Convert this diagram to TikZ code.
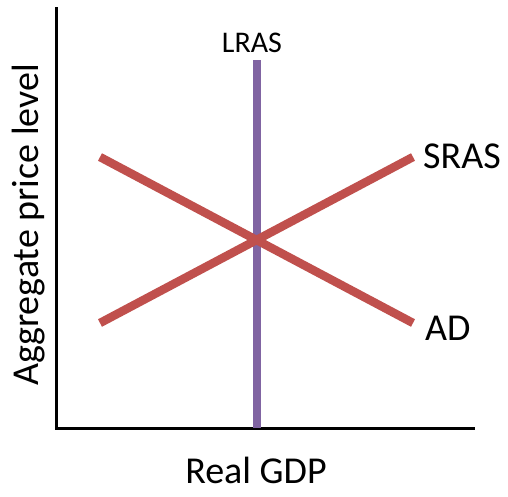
\documentclass[tikz,border=0pt]{standalone}
\usepackage{fontspec}
\setmainfont{Carlito}
\definecolor{curvered}{HTML}{C0504D}
\definecolor{lraspurple}{HTML}{8064A2}
\tikzset{
  axisline/.style={line width=3pt, black},
  curveline/.style={line width=8.5pt, curvered},
  lrasline/.style={line width=8pt, lraspurple},
  biglabel/.style={font=\fontsize{38}{40}\selectfont, inner sep=0pt},
  smalllabel/.style={font=\fontsize{30}{32}\selectfont, inner sep=0pt}
}
\begin{document}
\begin{tikzpicture}[x=1pt,y=-1pt]
\useasboundingbox (0,0) rectangle (508,496);
% axes
\coordinate (ytop) at (56,7);
\coordinate (origin) at (56,428);
\coordinate (xend) at (475,428);
\draw[axisline] (ytop) -- (origin) -- (xend);
% LRAS
\coordinate (lrastop) at (257,60);
\coordinate (lrasbot) at (257,428);
\draw[lrasline] (lrastop) -- (lrasbot);
% SRAS and AD
\coordinate (srasL) at (100,323);
\coordinate (srasR) at (413,157);
\coordinate (adL) at (100,157);
\coordinate (adR) at (413,323);
\draw[curveline] (srasL) -- (srasR);
\draw[curveline] (adL) -- (adR);
% labels
\node[smalllabel] (lraslab) at (252,43) {LRAS};
\node[biglabel, anchor=west] (sraslab) at (423,156) {SRAS};
\node[biglabel, anchor=west] (adlab) at (425,328) {AD};
\node[biglabel] (xlab) at (256,470) {Real GDP};
\node[biglabel, rotate=90] (ylab) at (29,225) {Aggregate price level};
\end{tikzpicture}
\end{document}
